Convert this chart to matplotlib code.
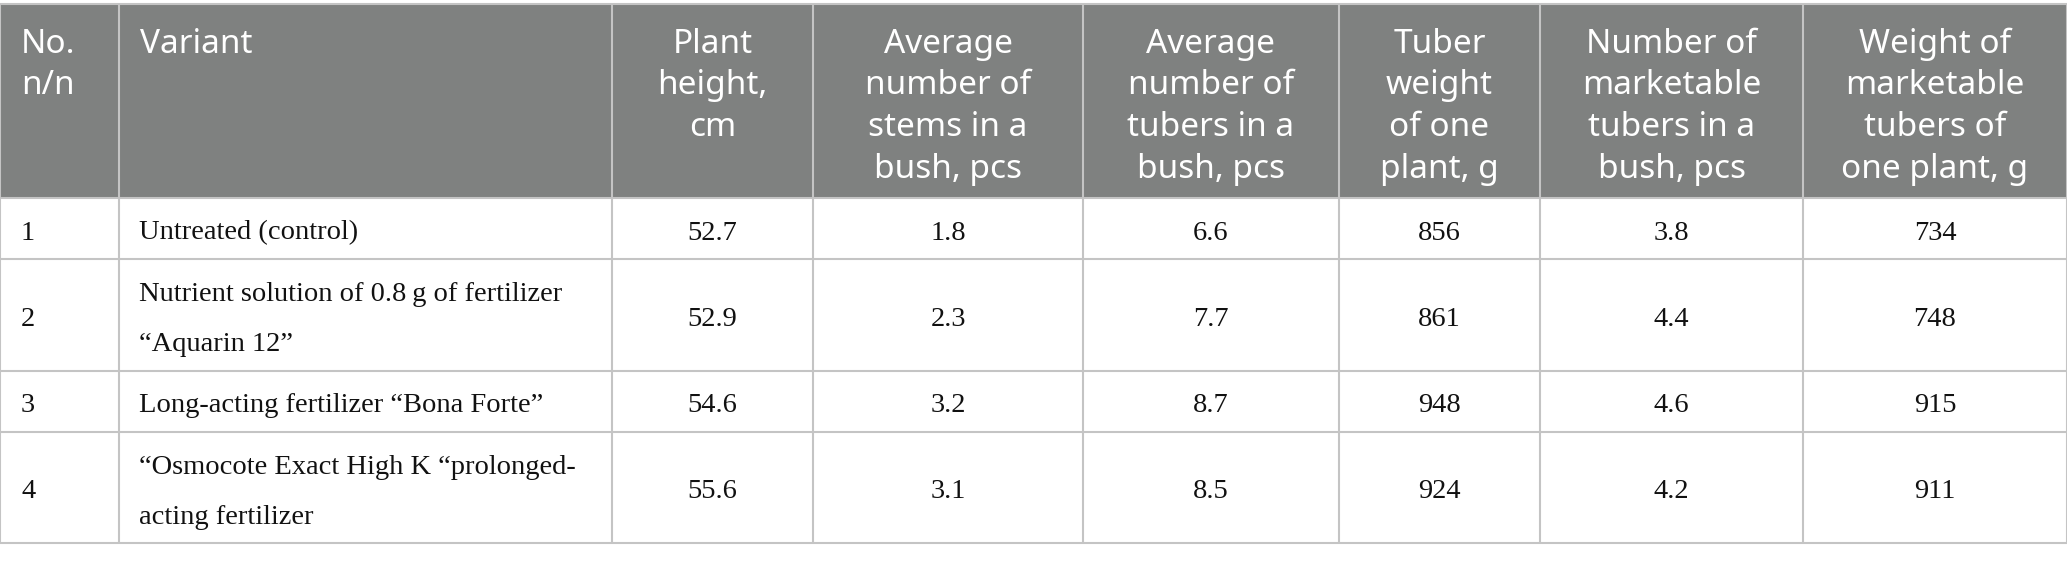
import matplotlib.pyplot as plt
from matplotlib.patches import Rectangle

headers = [
    ['No.', 'n/n'],
    ['Variant'],
    ['Plant', 'height,', 'cm'],
    ['Average', 'number of', 'stems in a', 'bush, pcs'],
    ['Average', 'number of', 'tubers in a', 'bush, pcs'],
    ['Tuber', 'weight', 'of one', 'plant, g'],
    ['Number of', 'marketable', 'tubers in a', 'bush, pcs'],
    ['Weight of', 'marketable', 'tubers of', 'one plant, g'],
]
row_no = ['1', '2', '3', '4']
variants = [
    ['Untreated (control)'],
    ['Nutrient solution of 0.8\u2009g of fertilizer', '\u201cAquarin 12\u201d'],
    ['Long-acting fertilizer \u201cBona Forte\u201d'],
    ['\u201cOsmocote Exact High K \u201cprolonged-', 'acting fertilizer'],
]
plant_height = ['52.7', '52.9', '54.6', '55.6']
stems = ['1.8', '2.3', '3.2', '3.1']
tubers = ['6.6', '7.7', '8.7', '8.5']
tuber_weight = ['856', '861', '948', '924']
market_tubers = ['3.8', '4.4', '4.6', '4.2']
market_weight = ['734', '748', '915', '911']

W, H = 2067, 562
col_x = [0, 119, 612, 813, 1083, 1339, 1540, 1803, 2067]
row_y = [4, 198, 259, 371, 432, 543]

HEAD_BG = '#7f8180'
GRID = '#c4c4c4'
head_font = ['Noto Sans', 'DejaVu Sans']
body_font = ['Liberation Serif', 'DejaVu Serif']

fig = plt.figure(figsize=(W / 100, H / 100), dpi=100)
ax = fig.add_axes([0, 0, 1, 1])
ax.set_xlim(0, W)
ax.set_ylim(H, 0)
ax.axis('off')

# header band
ax.add_patch(Rectangle((0, row_y[0]), W, row_y[1] - row_y[0], color=HEAD_BG, lw=0))

# grid
for x in col_x:
    ax.plot([x, x], [row_y[0], row_y[-1]], color=GRID, lw=1.5, solid_capstyle='butt')
for y in row_y:
    ax.plot([0, W], [y, y], color=GRID, lw=1.5, solid_capstyle='butt')

# header text
for c, lines in enumerate(headers):
    if c < 2:
        x, ha = col_x[c] + 21, 'left'
    else:
        x, ha = (col_x[c] + col_x[c + 1]) / 2, 'center'
    for i, t in enumerate(lines):
        ax.text(x, 53 + i * 41.5, t, ha=ha, va='baseline', color='white',
                fontsize=24, family=head_font)

# body
columns = [plant_height, stems, tubers, tuber_weight, market_tubers, market_weight]
for r in range(4):
    base = (row_y[r + 1] + row_y[r + 2]) / 2 + 11
    ax.text(col_x[0] + 21, base, row_no[r], ha='left', va='baseline',
            fontsize=20.5, family=body_font, color='#111111')
    lines = variants[r]
    n = len(lines)
    for i, t in enumerate(lines):
        ax.text(col_x[1] + 20, base + (i - (n - 1) / 2) * 50, t, ha='left',
                va='baseline', fontsize=20.5, family=body_font, color='#111111')
    for c, vals in enumerate(columns):
        cx = (col_x[c + 2] + col_x[c + 3]) / 2
        ax.text(cx, base, vals[r], ha='center', va='baseline',
                fontsize=20.5, family=body_font, color='#111111')

fig.savefig('out.png', dpi=100)
